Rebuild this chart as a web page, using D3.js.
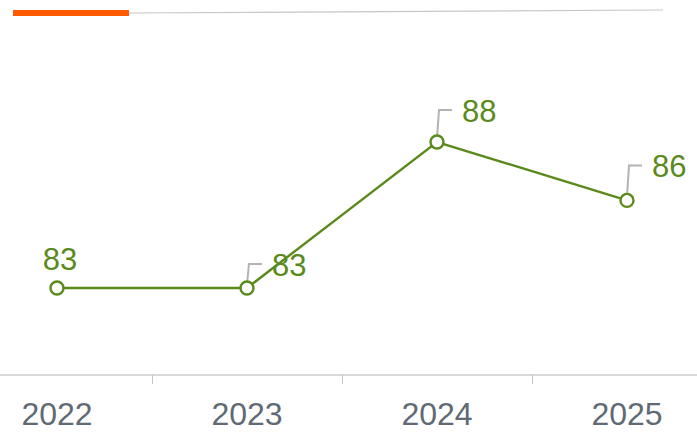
<!DOCTYPE html>
<html>
<head>
<meta charset="utf-8">
<script src="https://cdn.jsdelivr.net/npm/d3@7"></script>
<style>
  html, body { margin: 0; padding: 0; background: #fff; }
  svg { display: block; }
</style>
</head>
<body>
<svg id="chart" width="697" height="433"></svg>
<script>
// Yearly index values
const years = ["2022", "2023", "2024", "2025"];
const values = [83, 83, 88, 86];

// Label placement per point: "above" = centred over the marker,
// otherwise a leader line runs up and to the right of the marker.
const labelModes = ["above", "leader", "leader", "leader"];

const W = 697, H = 433;
const green = "#5b8a1c";
const svg = d3.select("#chart");

// Header accent: orange bar followed by a thin grey rule
svg.append("line")
  .attr("x1", 129).attr("y1", 13).attr("x2", 663).attr("y2", 10)
  .attr("stroke", "#c8c8c8").attr("stroke-width", 1.2);
svg.append("rect")
  .attr("x", 13).attr("y", 10).attr("width", 116).attr("height", 6)
  .attr("fill", "#ff5a00");

const x = d3.scaleBand().domain(years).range([-38, 722]).padding(0);
const y = d3.scaleLinear().domain([83, 88]).range([288, 142]);
const cx = d => x(d) + x.bandwidth() / 2;

// Baseline axis with separators between years
const axisY = 375;
svg.append("line")
  .attr("x1", 0).attr("x2", W).attr("y1", axisY).attr("y2", axisY)
  .attr("stroke", "#cccccc").attr("stroke-width", 1.5);
svg.append("g").selectAll("line")
  .data(years.slice(1))
  .join("line")
  .attr("x1", d => Math.round(x(d)) + 0.5).attr("x2", d => Math.round(x(d)) + 0.5)
  .attr("y1", axisY).attr("y2", axisY + 9)
  .attr("stroke", "#c4c4c4").attr("stroke-width", 1);
svg.append("g").selectAll("text")
  .data(years)
  .join("text")
  .attr("x", d => cx(d)).attr("y", 425)
  .attr("text-anchor", "middle")
  .attr("font-family", "Liberation Sans, Arial, sans-serif")
  .attr("font-size", 32)
  .attr("fill", "#5f6a74")
  .text(d => d);

// Series line
const pts = years.map((d, i) => ({ year: d, v: values[i], mode: labelModes[i] }));
svg.append("path")
  .datum(pts)
  .attr("d", d3.line().x(d => cx(d.year)).y(d => y(d.v)))
  .attr("fill", "none").attr("stroke", green).attr("stroke-width", 2.4);

// Leader lines for the offset labels
const leaderRise = d => (d.v === d3.max(values) ? 32 : (d.v === values[0] ? 24 : 35));
const lead = pts.filter(d => d.mode === "leader");
svg.append("g").selectAll("path")
  .data(lead)
  .join("path")
  .attr("d", d => {
    const px = cx(d.year), py = y(d.v);
    const top = py - leaderRise(d);
    return `M${px},${py - 4} L${px + 2},${top} L${px + 15},${top}`;
  })
  .attr("fill", "none").attr("stroke", "#b3b3b3").attr("stroke-width", 2);

// Markers
svg.append("g").selectAll("circle")
  .data(pts)
  .join("circle")
  .attr("cx", d => cx(d.year)).attr("cy", d => y(d.v))
  .attr("r", 6.5)
  .attr("fill", "#fff").attr("stroke", green).attr("stroke-width", 2.4);

// Value labels
svg.append("g").selectAll("text")
  .data(pts)
  .join("text")
  .attr("x", d => d.mode === "above" ? cx(d.year) + 3 : cx(d.year) + 25)
  .attr("y", d => d.mode === "above" ? y(d.v) - 18 : y(d.v) - leaderRise(d) + 12)
  .attr("text-anchor", d => d.mode === "above" ? "middle" : "start")
  .attr("font-family", "Liberation Sans, Arial, sans-serif")
  .attr("font-size", 31)
  .attr("fill", green)
  .text(d => d.v);
</script>
</body>
</html>
